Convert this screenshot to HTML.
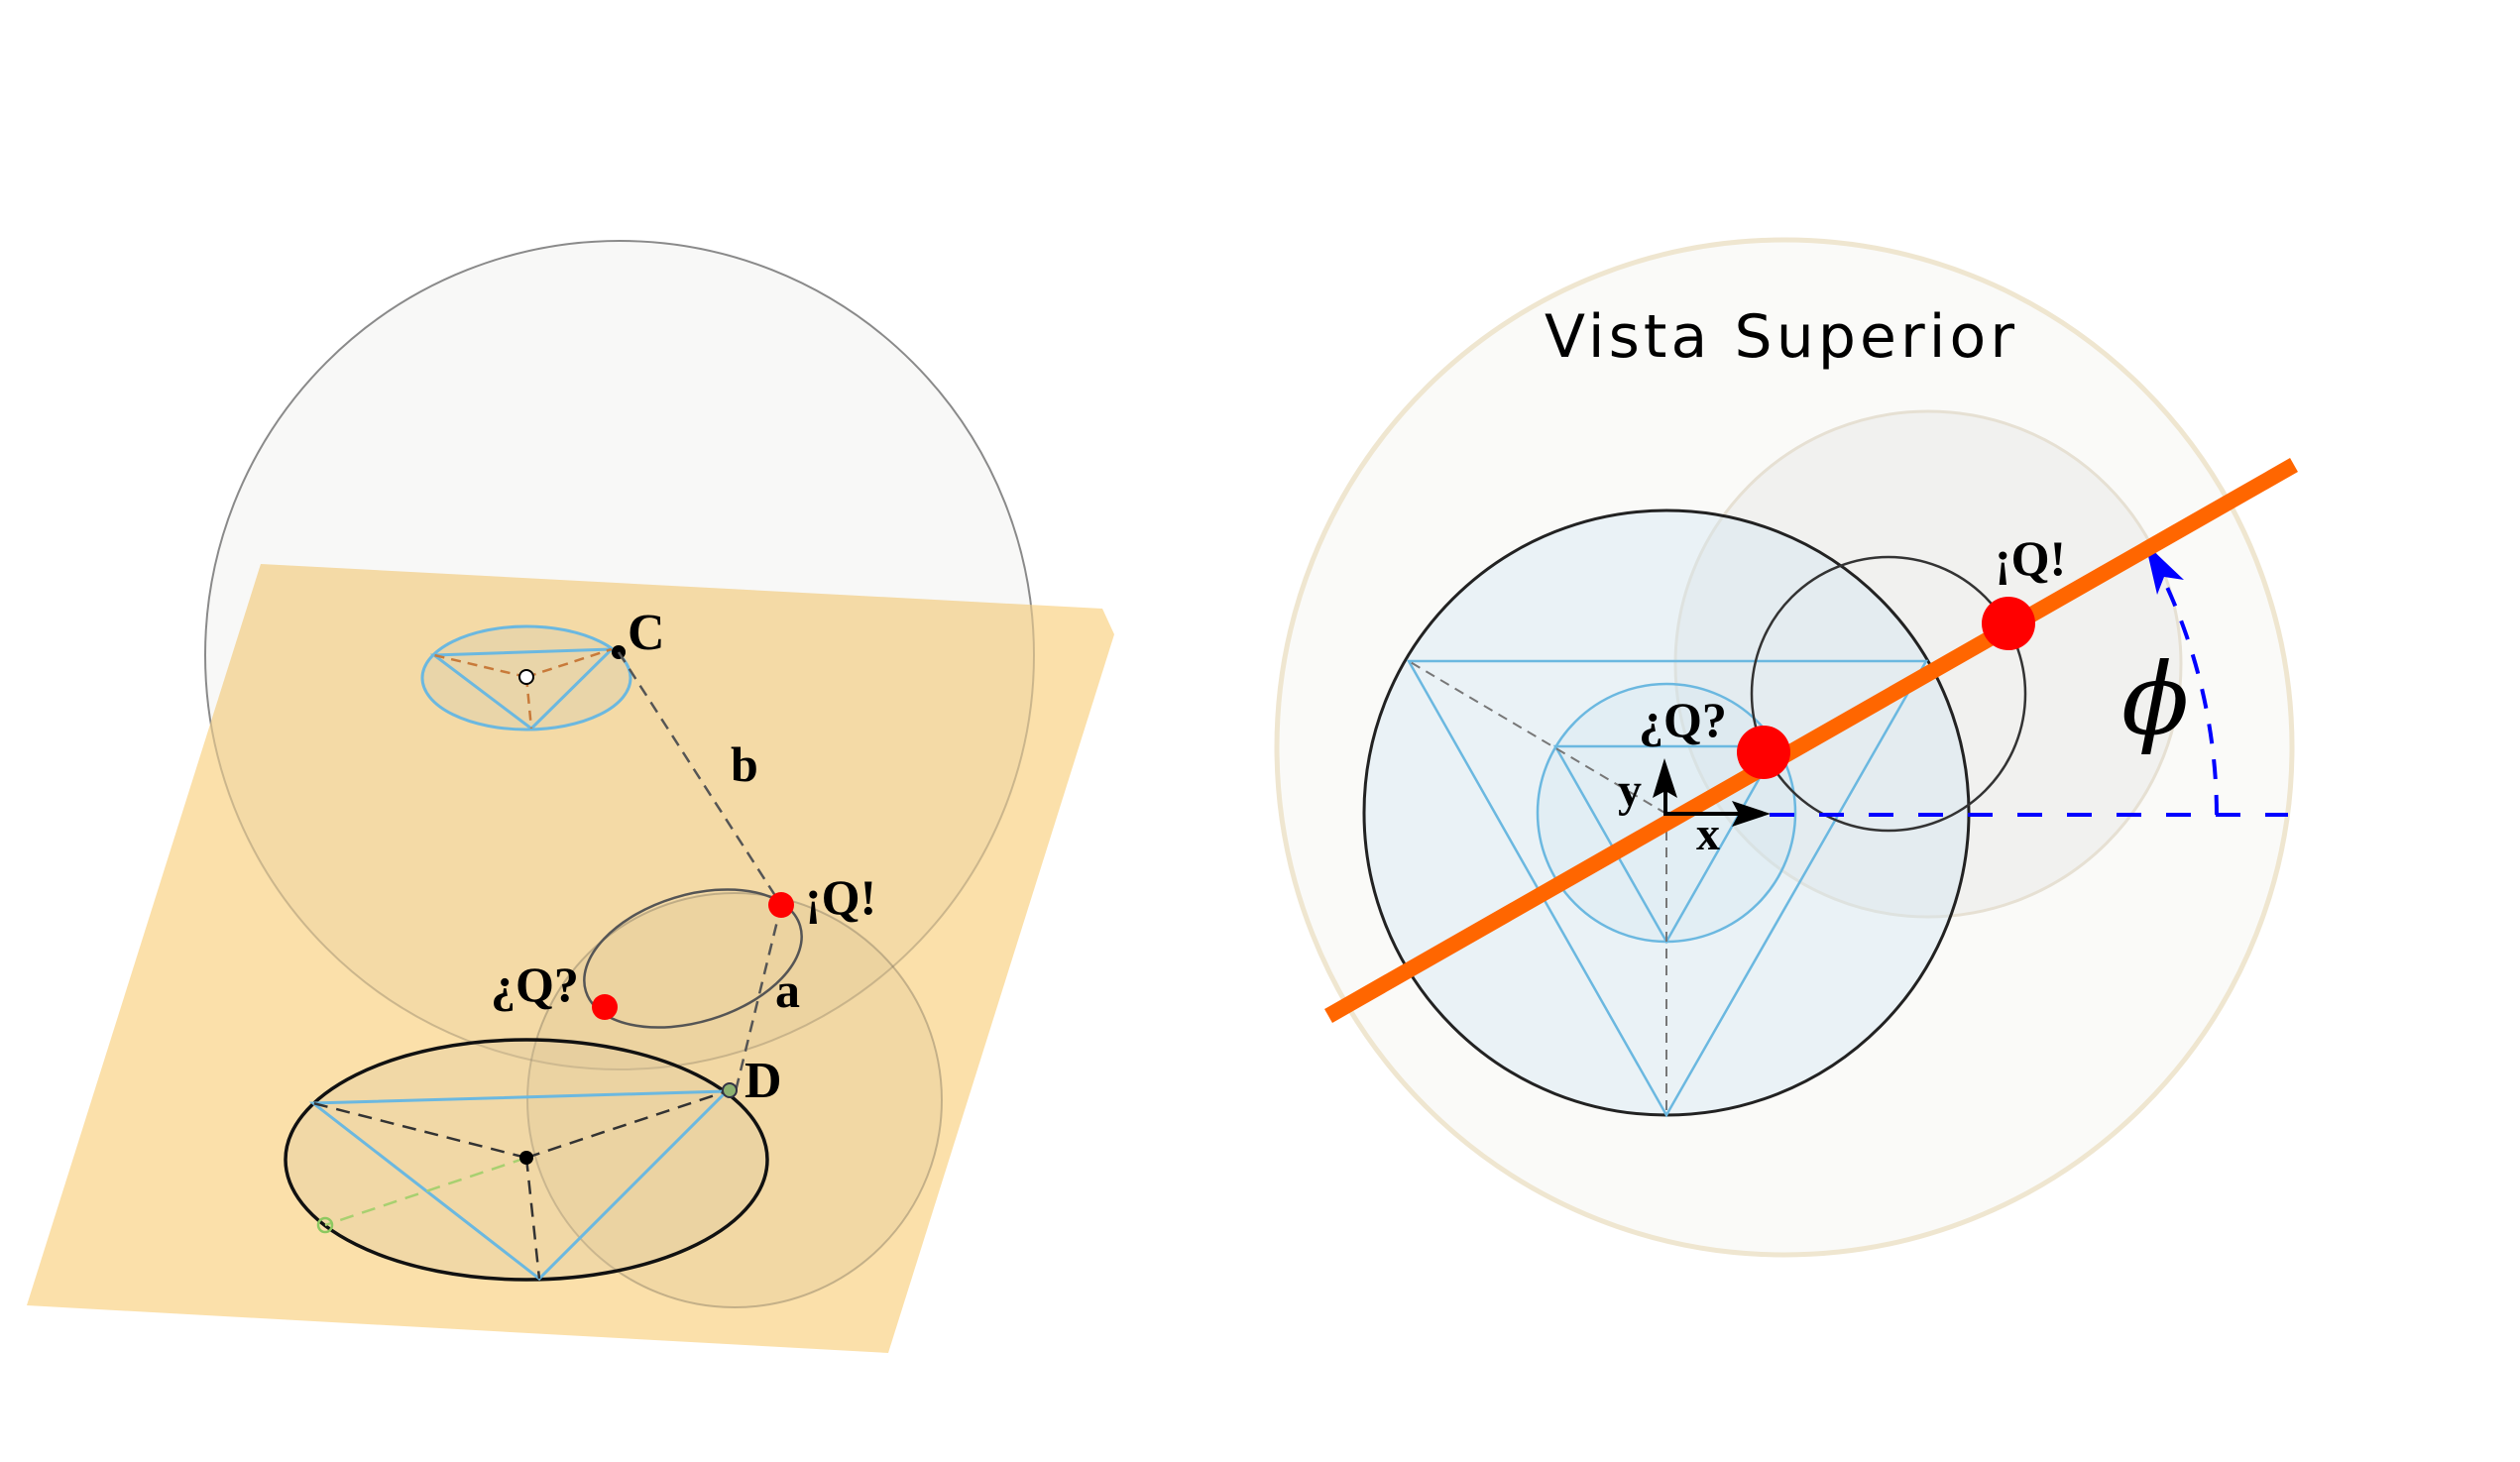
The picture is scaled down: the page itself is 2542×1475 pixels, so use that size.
<!DOCTYPE html>
<html><head><meta charset="utf-8"><style>
html,body{margin:0;padding:0;background:#fff;}
svg{display:block;}
.lbl{font-family:"Liberation Serif",serif;font-weight:bold;fill:#000;}
</style></head><body>
<svg width="2542" height="1475" viewBox="0 0 2542 1475" xmlns="http://www.w3.org/2000/svg">
<defs>
  <clipPath id="planeClip"><polygon points="263,569 1112,614 1124,640 896,1365 27,1317"/></clipPath>
</defs>
<!-- LEFT 3D VIEW -->
<g>
  <circle cx="625" cy="661" r="418" fill="#f8f8f7" stroke="#8a8a8a" stroke-width="2"/>
  <polygon points="263,569 1112,614 1124,640 896,1365 27,1317" fill="#fbe0aa"/>
  <g clip-path="url(#planeClip)">
    <circle cx="625" cy="661" r="418" fill="rgba(200,180,140,0.12)" stroke="rgba(120,110,90,0.35)" stroke-width="2"/>
    <circle cx="741" cy="1110" r="209" fill="rgba(190,170,130,0.14)" stroke="rgba(120,110,90,0.4)" stroke-width="2"/>
  </g>
  <ellipse cx="531" cy="684" rx="105" ry="52" fill="rgba(200,200,180,0.25)" stroke="#6bb8e0" stroke-width="3"/>
  <polygon points="438,661 617,655 536,735" fill="none" stroke="#6bb8e0" stroke-width="3"/>
  <g stroke="#c87a3a" stroke-width="2.5" stroke-dasharray="10,7">
    <line x1="531" y1="683" x2="438" y2="661"/><line x1="531" y1="683" x2="617" y2="655"/><line x1="531" y1="683" x2="536" y2="735"/>
  </g>
  <circle cx="531" cy="683" r="7" fill="#fff" stroke="#000" stroke-width="2"/>
  <circle cx="624" cy="658" r="7" fill="#000"/>
  <text class="lbl" x="633" y="655" font-size="52">C</text>
  <line x1="624" y1="658" x2="788" y2="913" stroke="#555" stroke-width="2.5" stroke-dasharray="12,8"/>
  <text class="lbl" x="737" y="788" font-size="50">b</text>
  <ellipse cx="699" cy="967" rx="113" ry="64" transform="rotate(-17 699 967)" fill="none" stroke="#555" stroke-width="2.5"/>
  <line x1="788" y1="913" x2="741" y2="1105" stroke="#555" stroke-width="2.5" stroke-dasharray="12,8"/>
  <text class="lbl" x="782" y="1016" font-size="50">a</text>
  <ellipse cx="531" cy="1170" rx="243" ry="121" fill="rgba(220,200,160,0.3)" stroke="#111" stroke-width="3.5"/>
  <polygon points="316,1113 733,1101 544,1290" fill="none" stroke="#6bb8e0" stroke-width="3"/>
  <g stroke="#333" stroke-width="2.5" stroke-dasharray="14,9">
    <line x1="531" y1="1168" x2="316" y2="1113"/><line x1="531" y1="1168" x2="733" y2="1101"/><line x1="531" y1="1168" x2="544" y2="1290"/>
  </g>
  <line x1="531" y1="1168" x2="328" y2="1236" stroke="#a8d070" stroke-width="2.5" stroke-dasharray="14,9"/>
  <circle cx="328" cy="1236" r="7" fill="none" stroke="#8cc860" stroke-width="2.5"/>
  <circle cx="531" cy="1168" r="7" fill="#000"/>
  <circle cx="736" cy="1100" r="7" fill="#8cb070" stroke="#334" stroke-width="2"/>
  <text class="lbl" x="751" y="1107" font-size="52">D</text>
  <circle cx="788" cy="913" r="13" fill="#f00"/>
  <text class="lbl" x="812" y="922" font-size="50">¡Q!</text>
  <circle cx="610" cy="1016" r="13" fill="#f00"/>
  <text class="lbl" x="495" y="1010" font-size="50">¿Q?</text>
</g>
<!-- RIGHT TOP VIEW -->
<g>
  <circle cx="1800" cy="754" r="512" fill="#fafaf8" stroke="#efe6d0" stroke-width="5"/>
  <text x="1558" y="360" font-family="'DejaVu Sans',sans-serif" font-size="60" textLength="474" fill="#000">Vista Superior</text>
  <circle cx="1945" cy="670" r="255" fill="rgba(228,228,225,0.4)" stroke="#e6e0d3" stroke-width="3"/>
  <circle cx="1681" cy="820" r="305" fill="rgba(210,230,242,0.4)" stroke="#222" stroke-width="3"/>
  <circle cx="1681" cy="820" r="130" fill="rgba(205,228,240,0.25)" stroke="#6bb8e0" stroke-width="2.5"/>
  <polygon points="1421,667 1943,667 1681,1125" fill="none" stroke="#6bb8e0" stroke-width="2.5"/>
  <polygon points="1569,753 1793,753 1681,950" fill="none" stroke="#6bb8e0" stroke-width="2.5"/>
  <line x1="1681" y1="821" x2="1421" y2="667" stroke="#777" stroke-width="2" stroke-dasharray="10,7"/>
  <line x1="1681" y1="821" x2="1681" y2="1125" stroke="#777" stroke-width="2" stroke-dasharray="10,7"/>
  <circle cx="1905" cy="700" r="138" fill="none" stroke="#333" stroke-width="2.5"/>
  <line x1="1785" y1="822" x2="2308" y2="822" stroke="#00f" stroke-width="4" stroke-dasharray="25,25"/>
  <path d="M2236,822 A556,556 0 0 0 2170,560" fill="none" stroke="#00f" stroke-width="4" stroke-dasharray="20,16"/>
  <polygon points="2164,548 2203,585 2183,582 2176,600" fill="#00f"/>
  <text x="2140" y="740" font-family="'DejaVu Serif','Liberation Serif',serif" font-style="italic" font-size="100" fill="#000">ϕ</text>
  <line x1="1340" y1="1025" x2="2314" y2="469" stroke="#ff6600" stroke-width="16"/>
  <line x1="1680" y1="822" x2="1680" y2="790" stroke="#000" stroke-width="4"/>
  <polygon points="1679,765 1692,805 1680,798 1667,805" fill="#000"/>
  <line x1="1678" y1="821" x2="1760" y2="821" stroke="#000" stroke-width="4"/>
  <polygon points="1786,821 1747,808 1754,821 1747,834" fill="#000"/>
  <text class="lbl" x="1632" y="813" font-size="48">y</text>
  <text class="lbl" x="1711" y="857" font-size="48">x</text>
  <circle cx="1779" cy="759" r="27" fill="#f00"/>
  <text class="lbl" x="1653" y="743" font-size="50">¿Q?</text>
  <circle cx="2026" cy="629" r="27" fill="#f00"/>
  <text class="lbl" x="2012" y="580" font-size="50">¡Q!</text>
</g>
</svg>
</body></html>
